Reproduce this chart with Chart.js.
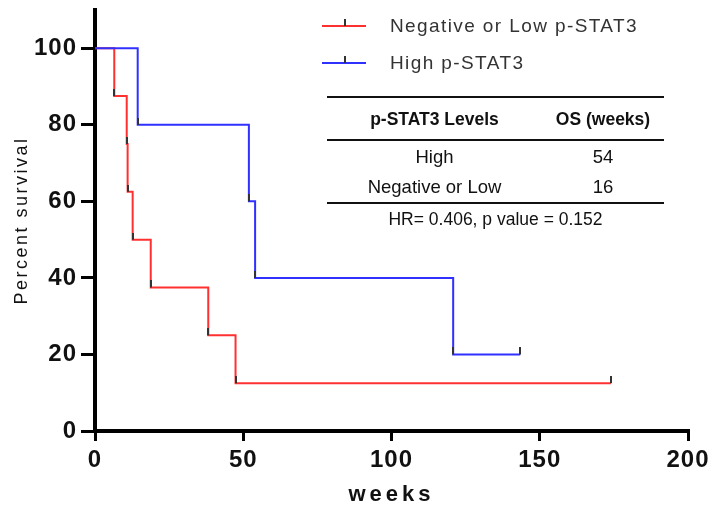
<!DOCTYPE html>
<html>
<head>
<meta charset="utf-8">
<script src="https://cdn.jsdelivr.net/npm/chart.js@4.4.0/dist/chart.umd.min.js"></script>
<style>
html,body{margin:0;padding:0;background:#fff;}
#wrap{position:relative;width:714px;height:507px;overflow:hidden;}
#c{position:absolute;left:0;top:0;}
#tbl{position:absolute;left:327px;top:96px;width:337px;border-collapse:collapse;table-layout:fixed;
  font-family:"Liberation Sans",Arial,sans-serif;font-size:18.5px;color:#111;}
#tbl td,#tbl th{padding:0;text-align:center;white-space:nowrap;}
#tbl thead tr{height:42.5px;border-top:2px solid #111;border-bottom:2px solid #111;}
#tbl thead th{font-weight:bold;font-size:17.5px;padding-top:3px;}
#tbl tbody tr{height:31.5px;}
#tbl tbody td{padding-top:2px;}
#tbl tbody tr:last-child{border-bottom:2px solid #111;}
#tbl tfoot tr{height:32px;}
#tbl tfoot td{font-size:17.5px;}
</style>
</head>
<body>
<div id="wrap">
<canvas id="c" width="714" height="507"></canvas>
<table id="tbl"><colgroup><col style="width:215px"><col style="width:122px"></colgroup>
<thead><tr id="th"></tr></thead><tbody id="tb"></tbody><tfoot><tr><td colspan="2" id="note"></td></tr></tfoot></table>
</div>
<script>
// ---- data ----
const seriesNames = ['Negative or Low p-STAT3', 'High p-STAT3'];
const weeksLow  = [0, 6.5, 10.7, 11.0, 12.7, 18.8, 38.2, 47.4, 174];
const survLow   = [100, 87.5, 75, 62.5, 50, 37.5, 25, 12.5, 12.5];
const weeksHigh = [0, 14.4, 51.9, 54.0, 120.8, 143.4];
const survHigh  = [100, 80, 60, 40, 20, 20];
const xTicks = [0, 50, 100, 150, 200];
const yTicks = [0, 20, 40, 60, 80, 100];
const xTitle = 'weeks';
const yTitle = 'Percent survival';
const tableHeader = ['p-STAT3 Levels', 'OS (weeks)'];
const tableGroups = ['High', 'Negative or Low'];
const tableOS = [54, 16];
const statsNote = 'HR= 0.406, p value = 0.152';

// ---- table ----
document.getElementById('th').innerHTML = tableHeader.map(h => '<th>' + h + '</th>').join('');
document.getElementById('tb').innerHTML = tableGroups.map((g, i) => '<tr><td>' + g + '</td><td>' + tableOS[i] + '</td></tr>').join('');
document.getElementById('note').textContent = statsNote;

// ---- chart ----
function tickMark() {
  const c = document.createElement('canvas');
  c.width = 2; c.height = 14;
  const g = c.getContext('2d');
  g.fillStyle = '#333';
  g.fillRect(0, 0, 2, 7);
  return c;
}
const tm = tickMark();
function pts(xs, ys) { return xs.map((x, i) => ({x: x, y: ys[i]})); }
function radii(xs) { return xs.map((x, i) => i === 0 ? 0 : 3); }

function spaced(scale, method, sp) {
  const key = '_sp_' + method;
  if (scale[key]) return;
  const orig = scale[method];
  scale[method] = function () {
    const ctx = this.ctx;
    ctx.save();
    try { ctx.letterSpacing = sp; } catch (e) {}
    const r = orig.apply(this, arguments);
    ctx.restore();
    return r;
  };
  scale[key] = true;
}

const FONT = "'Liberation Sans', Arial, sans-serif";

const legendPlugin = {
  id: 'kmLegend',
  afterDraw(chart) {
    const ctx = chart.ctx;
    const rows = [26, 63];
    ctx.save();
    chart.data.datasets.forEach((ds, i) => {
      const y = rows[i];
      ctx.strokeStyle = ds.borderColor;
      ctx.lineWidth = 2;
      ctx.beginPath(); ctx.moveTo(322, y); ctx.lineTo(366, y); ctx.stroke();
      ctx.fillStyle = '#333';
      ctx.fillRect(344, y - 7, 2, 7);
      ctx.font = '19px ' + FONT;
      try { ctx.letterSpacing = '1.4px'; } catch (e) {}
      ctx.fillStyle = '#333';
      ctx.textBaseline = 'middle';
      ctx.textAlign = 'left';
      ctx.fillText(ds.label, 390, y + 1);
    });
    ctx.restore();
  }
};

new Chart(document.getElementById('c'), {
  type: 'line',
  data: {
    datasets: [
      {label: seriesNames[0], data: pts(weeksLow, survLow), borderColor: '#ff3030', borderWidth: 2,
       stepped: 'before', fill: false, pointStyle: tm, pointRadius: radii(weeksLow), order: 1},
      {label: seriesNames[1], data: pts(weeksHigh, survHigh), borderColor: '#3030ff', borderWidth: 2,
       stepped: 'before', fill: false, pointStyle: tm, pointRadius: radii(weeksHigh), order: 0}
    ]
  },
  options: {
    responsive: false,
    animation: false,
    devicePixelRatio: 1,
    layout: {padding: {left: 0, right: 26, top: 10, bottom: 0}},
    plugins: {legend: {display: false}, tooltip: {enabled: false}},
    scales: {
      x: {
        type: 'linear', min: 0, max: 200,
        afterBuildTicks: s => { s.ticks = xTicks.map(v => ({value: v})); },
        afterFit: s => { s.height = 76; s.paddingLeft = 0; s.paddingRight = 0; spaced(s, 'drawTitle', '4px'); spaced(s, 'drawLabels', '1px'); },
        grid: {display: true, drawOnChartArea: false, drawTicks: true, tickLength: 10, lineWidth: 3, color: '#000'},
        border: {display: true, color: '#000', width: 4},
        ticks: {color: '#111', font: {family: FONT, size: 24, weight: 'bold'}, padding: 5, maxRotation: 0, autoSkip: false},
        title: {display: true, text: xTitle, color: '#111', font: {family: FONT, size: 22, weight: 'bold'}, padding: {top: 0, bottom: -1}}
      },
      y: {
        type: 'linear', min: 0, max: 110,
        afterBuildTicks: s => { s.ticks = yTicks.map(v => ({value: v})); },
        afterFit: s => { s.width = 95; s.paddingTop = 0; s.paddingBottom = 0; spaced(s, 'drawTitle', '2.5px'); spaced(s, 'drawLabels', '1px'); },
        grid: {display: true, drawOnChartArea: false, drawTicks: true, tickLength: 14, lineWidth: 3, color: '#000'},
        border: {display: true, color: '#000', width: 4},
        ticks: {color: '#111', font: {family: FONT, size: 24, weight: 'bold'}, padding: 4},
        title: {display: true, text: yTitle, color: '#111', font: {family: FONT, size: 18}, padding: {top: 11, bottom: 0}}
      }
    }
  },
  plugins: [legendPlugin]
});
</script>
</body>
</html>
